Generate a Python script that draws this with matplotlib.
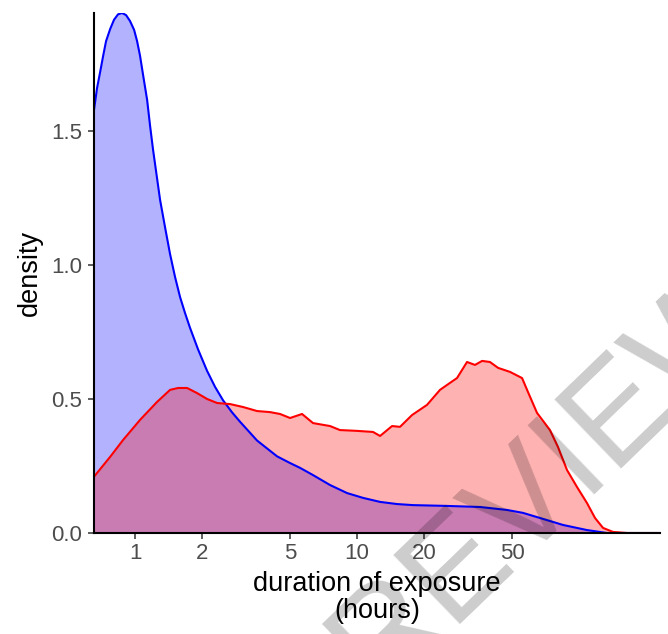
import numpy as np
import matplotlib.pyplot as plt

plt.rcParams['font.family'] = ['Liberation Sans', 'DejaVu Sans']

# blue group: duration (hours) and density
blue_x = [0.653, 0.674, 0.696, 0.718, 0.740, 0.772, 0.804, 0.838, 0.874, 0.911,
          0.949, 0.990, 1.021, 1.053, 1.086, 1.133, 1.168, 1.205, 1.243, 1.296,
          1.365, 1.438, 1.514, 1.595, 1.680, 1.769, 1.922, 2.110, 2.293, 2.491,
          2.735, 2.971, 3.544, 4.362, 4.991, 5.537, 6.337, 7.557, 9.016, 10.64,
          12.70, 15.14, 17.88, 25.43, 35.83, 47.39, 55.95, 66.73, 84.7, 108.6,
          133.7, 231.7]
blue_y = [1.578, 1.66, 1.72, 1.78, 1.835, 1.88, 1.915, 1.935, 1.94, 1.932,
          1.91, 1.877, 1.835, 1.78, 1.71, 1.616, 1.52, 1.43, 1.35, 1.243,
          1.14, 1.04, 0.955, 0.88, 0.82, 0.765, 0.685, 0.605, 0.545, 0.495,
          0.45, 0.415, 0.345, 0.286, 0.261, 0.243, 0.216, 0.179, 0.149, 0.131,
          0.116, 0.108, 0.104, 0.101, 0.097, 0.086, 0.075, 0.056, 0.030, 0.011,
          0.0, 0.0]

# red group
red_x = [0.653, 0.772, 0.883, 1.053, 1.256, 1.438, 1.562, 1.715, 1.902, 2.110,
         2.341, 2.679, 3.065, 3.544, 4.056, 4.500, 4.991, 5.653, 6.337, 7.557,
         8.38, 10.0, 11.80, 12.70, 14.38, 15.62, 17.69, 20.67, 23.65, 26.23,
         28.21, 31.30, 34.0, 36.6, 39.7, 43.2, 48.9, 55.4, 58.9, 64.7,
         74.0, 80.4, 88.3, 97.9, 108.6, 118.1, 128.3, 142.3, 164.5, 231.7]
red_y = [0.21, 0.284, 0.347, 0.422, 0.489, 0.534, 0.541, 0.541, 0.522, 0.500,
         0.485, 0.481, 0.470, 0.455, 0.451, 0.444, 0.429, 0.444, 0.410, 0.399,
         0.384, 0.381, 0.377, 0.362, 0.399, 0.396, 0.440, 0.478, 0.534, 0.560,
         0.578, 0.638, 0.627, 0.642, 0.638, 0.616, 0.601, 0.578, 0.526, 0.448,
         0.384, 0.321, 0.235, 0.172, 0.112, 0.056, 0.019, 0.004, 0.0, 0.0]

xticks = [1, 2, 5, 10, 20, 50]
yticks = [0.0, 0.5, 1.0, 1.5]

fig = plt.figure(figsize=(6.68, 6.34), dpi=100)
ax = fig.add_axes([94/668, 101/634, 566/668, 520/634])

ax.fill_between(blue_x, blue_y, color='blue', alpha=0.3, lw=0)
ax.plot(blue_x, blue_y, color='blue', lw=1.5)
ax.fill_between(red_x, red_y, color='red', alpha=0.3, lw=0)
ax.plot(red_x, red_y, color='red', lw=1.5)

ax.set_xscale('log')
ax.set_xlim(0.653, 231.7)
ax.set_ylim(0, 1.94)
ax.set_xticks(xticks)
ax.set_xticklabels([str(t) for t in xticks])
ax.minorticks_off()
ax.set_yticks(yticks)
ax.set_yticklabels(['%.1f' % t for t in yticks])

for s in ['top', 'right']:
    ax.spines[s].set_visible(False)
for s in ['left', 'bottom']:
    ax.spines[s].set_linewidth(1.5)
    ax.spines[s].set_color('black')
ax.tick_params(length=4.5, width=1.1, color='#333333', labelcolor='#4d4d4d',
               labelsize=16)
ax.tick_params(axis='x', pad=3)
ax.tick_params(axis='y', pad=4.3)

ax.set_xlabel('duration of exposure\n(hours)', fontsize=19.5, labelpad=4.5,
              linespacing=1.06)
ax.set_ylabel('density', fontsize=19.5, labelpad=5.5)

# watermark
fig.text(0.566, -0.093, 'REVIEW', fontsize=100, color='black', alpha=0.2,
         rotation=44, ha='left', va='baseline', rotation_mode='anchor')

fig.savefig('out.png', dpi=100)
